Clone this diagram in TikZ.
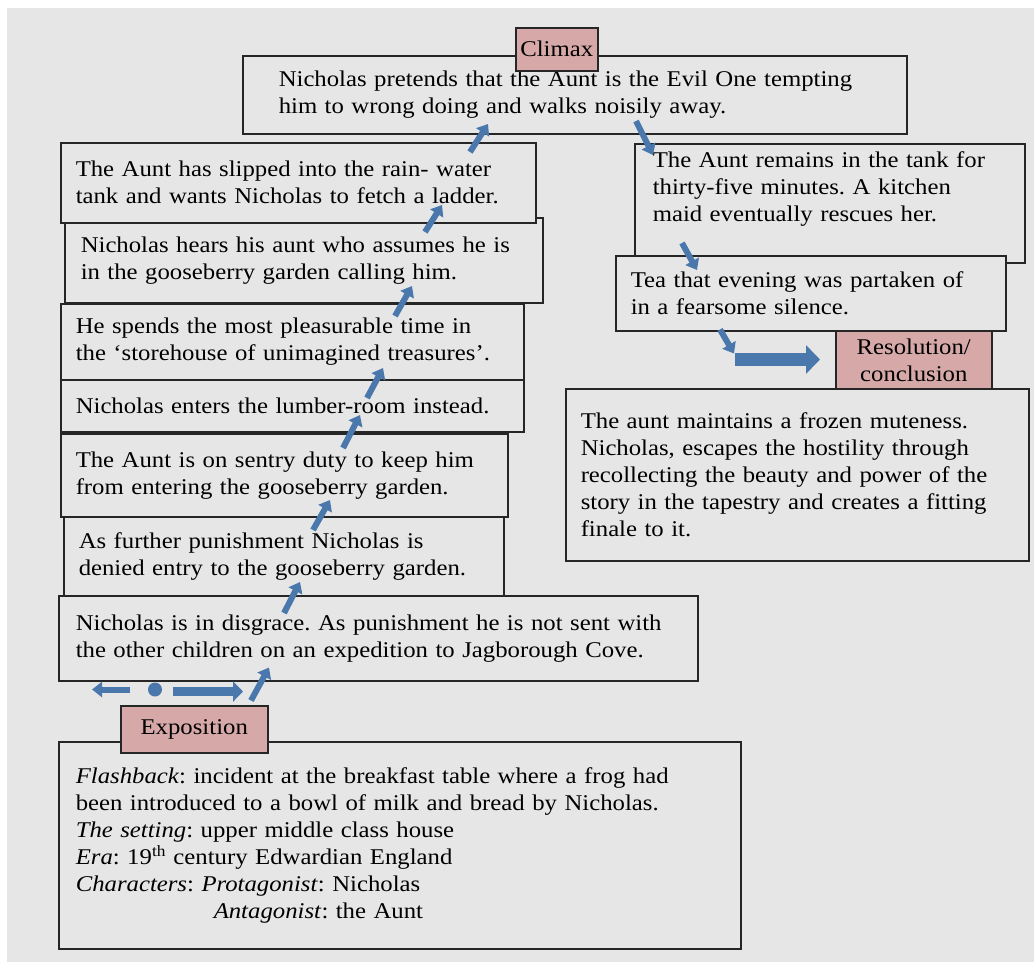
\documentclass[tikz,border=0pt]{standalone}
\usepackage{fontspec}
\setmainfont{Liberation Serif}[FakeStretch=1.1]
\usetikzlibrary{arrows.meta}
\definecolor{bggray}{RGB}{230,230,230}
\definecolor{tagpink}{RGB}{214,168,168}
\definecolor{arrowblue}{RGB}{74,120,172}
\frenchspacing

\begin{document}
\begin{tikzpicture}[x=1pt,y=-1pt,font=\fontsize{22.5pt}{27pt}\selectfont]
	\tikzset{storybox/.style={draw=black!85, line width=1.5pt, fill=bggray, anchor=north west, align=left, inner xsep=15pt, inner ysep=4pt},
		tag/.style={draw=black!85, line width=1.5pt, fill=tagpink, anchor=north west, align=center, inner sep=2pt},
		blk/.style={draw=arrowblue, line width=6pt, -{Triangle[length=10pt,width=15pt]}}}
	\useasboundingbox (0,0) rectangle (1034,962);
	\fill[white] (0,0) rectangle (1034,962);
	\fill[bggray] (7,8) rectangle (1034,962);
	\path
	(242,55) node[storybox,inner xsep=36pt,minimum width=664pt,minimum height=78pt,text width=592pt](climax){Nicholas pretends that the Aunt is the Evil One tempting\\ him to wrong doing and walks noisily away.}
	(515,27) node[tag,minimum width=82pt,minimum height=43pt](tclimax){Climax}
	(64,217) node[storybox,inner xsep=16pt,minimum width=478pt,minimum height=85pt,text width=446pt](s2){Nicholas hears his aunt who assumes he is\\ in the gooseberry garden calling him.}
	(60,142) node[storybox,minimum width=475pt,minimum height=80pt,text width=445pt](s1){The Aunt has slipped into the rain- water\\ tank and wants Nicholas to fetch a ladder.}
	(60,303) node[storybox,minimum width=463pt,minimum height=76pt,text width=433pt](s3){He spends the most pleasurable time in\\ the ‘storehouse of unimagined treasures’.}
	(60,379) node[storybox,minimum width=463pt,minimum height=52pt,text width=433pt](s4){Nicholas enters the lumber-room instead.}
	(60,433) node[storybox,minimum width=447pt,minimum height=83pt,text width=417pt](s5){The Aunt is on sentry duty to keep him\\ from entering the gooseberry garden.}
	(63,516) node[storybox,minimum width=440pt,minimum height=79pt,text width=410pt](s6){As further punishment Nicholas is\\ denied entry to the gooseberry garden.}
	(58,595) node[storybox,inner xsep=17pt,minimum width=639pt,minimum height=85pt,text width=605pt](s7){Nicholas is in disgrace. As punishment he is not sent with\\ the other children on an expedition to Jagborough Cove.}
	(634,143) node[storybox,inner xsep=18pt,minimum width=390pt,minimum height=119pt,text width=354pt,text depth=88pt](r1){The Aunt remains in the tank for\\ thirty-five minutes. A kitchen\\ maid eventually rescues her.}
	(615,255) node[storybox,minimum width=390pt,minimum height=75pt,text width=360pt](r2){Tea that evening was partaken of\\ in a fearsome silence.}
	(835,330) node[tag,minimum width=156pt,minimum height=60pt](tres){Resolution/\\ conclusion}
	(565,388) node[storybox,minimum width=463pt,minimum height=172pt,text width=433pt](res){The aunt maintains a frozen muteness.\\ Nicholas, escapes the hostility through\\ recollecting the beauty and power of the\\ story in the tapestry and creates a fitting\\ finale to it.}
	(58,741) node[storybox,inner xsep=17pt,minimum width=682pt,minimum height=207pt,text width=648pt](expo){\textit{Flashback}: incident at the breakfast table where a frog had\\ been introduced to a bowl of milk and bread by Nicholas.\\ \textit{The setting}: upper middle class house\\ \textit{Era}: 19\textsuperscript{th} century Edwardian England\\ \textit{Characters}: \textit{Protagonist}: Nicholas\\ \hspace*{138pt}\textit{Antagonist}: the Aunt}
	(120,705) node[tag,minimum width=147pt,minimum height=47pt](texpo){Exposition}
	;
	\draw[blk] (s7.south west) ++(72,8) -- ++(-38,0);
	\fill[arrowblue] (s7.south west) ++(97,8) circle (7pt);
	\draw[blk,line width=9pt,-{Triangle[length=10pt,width=20pt]}] (s7.south west) ++(115,10) -- ++(70,0);
	\draw[blk] (s7.south west) ++(193,19) -- ++(18,-33);
	\draw[blk] (s7.north west) ++(226,18) -- ++(16,-31);
	\draw[blk] (s6.north west) ++(250,14) -- ++(17,-30);
	\draw[blk] (s5.north west) ++(283,15) -- ++(17,-33);
	\draw[blk] (s4.north west) ++(307,19) -- ++(16,-30);
	\draw[blk] (s3.north west) ++(335,13) -- ++(17,-30);
	\draw[blk] (s2.north west) ++(361,15) -- ++(17,-27);
	\draw[blk] (s1.north west) ++(410,10) -- ++(18,-28);
	\draw[blk] (r1.north west) ++(2,-22) -- ++(17,34);
	\draw[blk] (r2.north west) ++(67,-12) -- ++(15,27);
	\draw[blk] (r2.south west) ++(105,-2) -- ++(14,24);
	\draw[blk,line width=13pt,-{Triangle[length=14pt,width=28pt]}] (r2.south west) ++(120,28) -- ++(85,0);
\end{tikzpicture}
\end{document}
